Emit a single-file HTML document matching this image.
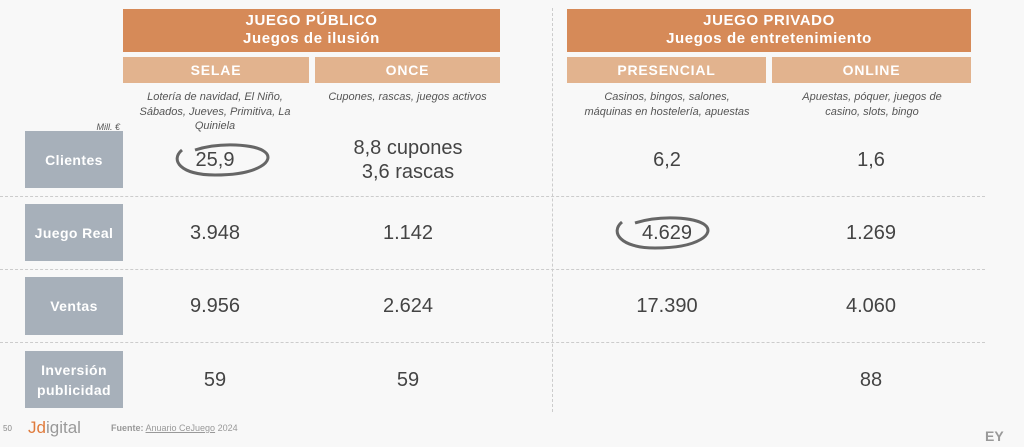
<!DOCTYPE html><html><head><meta charset="utf-8"><style>
body{margin:0;width:1024px;height:447px;background:#f8f8f8;position:relative;overflow:hidden;font-family:"Liberation Sans",sans-serif}
.a{position:absolute}
.h{background:#d68a58;color:#fff;font-weight:bold;font-size:15px;letter-spacing:0.6px;text-align:center;line-height:18px;padding-top:3px;box-sizing:border-box}
.s{background:#e2b38e;color:#fff;font-weight:bold;font-size:14px;letter-spacing:0.8px;text-align:center;line-height:26px}
.d{color:#555;font-style:italic;font-size:11px;text-align:center;line-height:14.5px}
.l{background:#a7b0ba;color:#fff;font-weight:bold;font-size:14px;letter-spacing:0.4px;display:flex;align-items:center;justify-content:center;text-align:center;line-height:20px;left:25px;width:98px}
.v{color:#444;font-size:20px;text-align:center;width:200px;line-height:24px}
.hl{left:0;width:985px;border-top:1px dashed #ccc;height:0}
</style></head><body>
<div class="a h" style="left:123px;top:9px;width:377px;height:43px">JUEGO PÚBLICO<br>Juegos de ilusión</div>
<div class="a h" style="left:567px;top:9px;width:404px;height:43px">JUEGO PRIVADO<br>Juegos de entretenimiento</div>
<div class="a s" style="left:123px;top:57px;width:186px">SELAE</div>
<div class="a s" style="left:315px;top:57px;width:185px">ONCE</div>
<div class="a s" style="left:567px;top:57px;width:199px">PRESENCIAL</div>
<div class="a s" style="left:772px;top:57px;width:199px">ONLINE</div>
<div class="a d" style="left:132px;top:90px;width:166px">Lotería de navidad, El Niño, Sábados, Jueves, Primitiva, La Quiniela</div>
<div class="a d" style="left:315px;top:90px;width:185px">Cupones, rascas, juegos activos</div>
<div class="a d" style="left:576px;top:90px;width:182px">Casinos, bingos, salones,<br>máquinas en hostelería, apuestas</div>
<div class="a d" style="left:792px;top:90px;width:160px">Apuestas, póquer, juegos de casino, slots, bingo</div>
<div class="a d" style="left:70px;top:120px;width:50px;text-align:right;font-size:9px">Mill. €</div>
<div class="a" style="left:552px;top:8px;height:404px;border-left:1px dashed #ccc"></div>
<div class="a hl" style="top:196px"></div><div class="a hl" style="top:269px"></div><div class="a hl" style="top:342px"></div>
<div class="a l" style="top:131px;height:57px">Clientes</div>
<div class="a l" style="top:204px;height:57px">Juego Real</div>
<div class="a l" style="top:277px;height:58px">Ventas</div>
<div class="a l" style="top:351px;height:57px">Inversión<br>publicidad</div>
<div class="a v" style="left:115px;top:148px">25,9</div>
<div class="a v" style="left:308px;top:136px">8,8 cupones<br>3,6 rascas</div>
<div class="a v" style="left:567px;top:148px">6,2</div>
<div class="a v" style="left:771px;top:148px">1,6</div>
<div class="a v" style="left:115px;top:221px">3.948</div>
<div class="a v" style="left:308px;top:221px">1.142</div>
<div class="a v" style="left:567px;top:221px">4.629</div>
<div class="a v" style="left:771px;top:221px">1.269</div>
<div class="a v" style="left:115px;top:294px">9.956</div>
<div class="a v" style="left:308px;top:294px">2.624</div>
<div class="a v" style="left:567px;top:294px">17.390</div>
<div class="a v" style="left:771px;top:294px">4.060</div>
<div class="a v" style="left:115px;top:368px">59</div>
<div class="a v" style="left:308px;top:368px">59</div>
<div class="a v" style="left:771px;top:368px">88</div>
<svg class="a" style="left:0;top:0" width="1024" height="447"><g fill="none" stroke="#666" stroke-width="3">
<path d="M182 150 C170 160,180 175,215 175 C260 175,275 160,265 152 C255 144,220 142,195 150"/>
<path d="M622 222 C610 232,620 248,655 248 C700 248,715 233,705 225 C695 217,660 215,635 223"/>
</g></svg>
<div class="a" style="left:3px;top:424px;font-size:8px;color:#888">50</div>
<div class="a" style="left:28px;top:418px;font-size:17px;color:#999"><span style="color:#e07b3c">J</span><span style="color:#e07b3c">d</span>igital</div>
<div class="a" style="left:111px;top:423px;font-size:9px;color:#999"><b>Fuente:</b> <u>Anuario CeJuego</u> 2024</div>
<div class="a" style="left:985px;top:428px;font-size:14px;font-weight:bold;color:#999">EY</div>
</body></html>
